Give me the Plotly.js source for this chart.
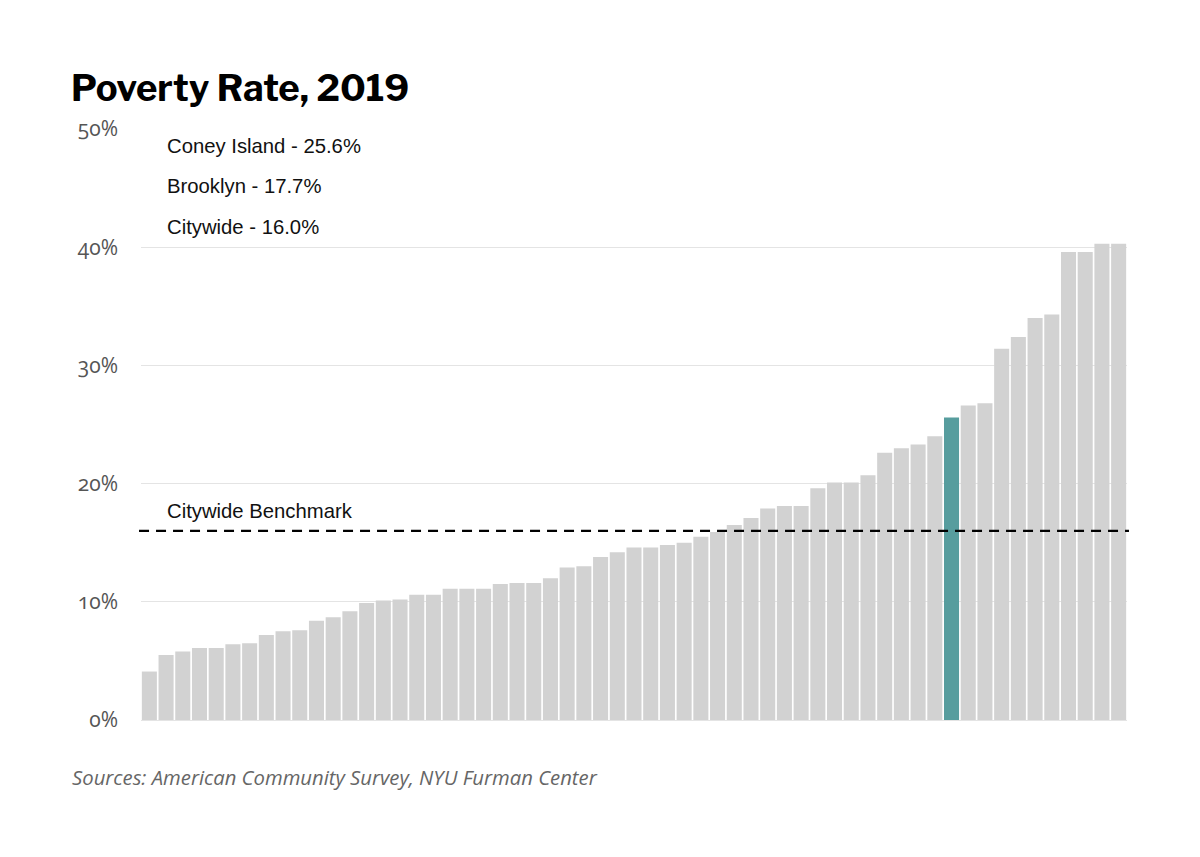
<!DOCTYPE html>
<html>
<head>
<meta charset="utf-8">
<script src="https://cdn.plot.ly/plotly-3.0.1.min.js"></script>
<style>
  html, body { margin: 0; padding: 0; background: #fff; }
  #chart { width: 1200px; height: 857px; }
  .ytick text { font-feature-settings: "onum" 1; }
</style>
</head>
<body>
<div id="chart"></div>
<script>
// Poverty rate (%) by community district, sorted ascending
const povertyRates = [
  4.1, 5.5, 5.8, 6.1, 6.1, 6.4, 6.5, 7.2, 7.5, 7.6,
  8.4, 8.7, 9.2, 9.9, 10.1, 10.2, 10.6, 10.6, 11.1, 11.1,
  11.1, 11.5, 11.6, 11.6, 12.0, 12.9, 13.0, 13.8, 14.2, 14.6,
  14.6, 14.8, 15.0, 15.5, 15.9, 16.5, 17.1, 17.9, 18.1, 18.1,
  19.6, 20.1, 20.1, 20.7, 22.6, 23.0, 23.3, 24.0, 25.6, 26.6,
  26.8, 31.4, 32.4, 34.0, 34.3, 39.6, 39.6, 40.3, 40.3
];
const highlightIndex = 48;          // Coney Island
const highlightName = "Coney Island";
const highlightValue = 25.6;
const boroughName = "Brooklyn";
const boroughValue = 17.7;
const citywideValue = 16.0;
const yTicks = [0, 10, 20, 30, 40, 50];
const yTickLabels = ["0%", "10%", "20%", "30%", "40%", "50%"];

const districts = povertyRates.map((v, i) => i === highlightIndex ? highlightName : "District " + (i + 1));
const barColors = povertyRates.map((v, i) => i === highlightIndex ? "#579d9e" : "#d2d2d2");

const trace = {
  type: "bar",
  x: districts,
  y: povertyRates,
  marker: { color: barColors, line: { width: 0 } },
  hoverinfo: "x+y"
};

const annFont = { family: "Liberation Sans, Arial, sans-serif", size: 20.3, color: "#111" };
const annX = (165 - 141) / 985;

const layout = {
  width: 1200,
  height: 857,
  margin: { l: 141, r: 73, t: 129, b: 137 },
  paper_bgcolor: "#fff",
  plot_bgcolor: "#fff",
  showlegend: false,
  bargap: 0.1,
  title: {
    text: "<b>Poverty Rate, 2019</b>",
    font: { family: "Libre Franklin, Lato, Open Sans, sans-serif", size: 36.5, color: "#000" },
    x: 71 / 1200, xref: "container", xanchor: "left",
    y: 1 - 88 / 857, yref: "container", yanchor: "middle"
  },
  xaxis: {
    type: "category",
    showticklabels: false,
    showgrid: false,
    zeroline: false,
    showline: false,
    ticks: "",
    range: [-0.5, povertyRates.length - 0.5]
  },
  yaxis: {
    range: [0, 50],
    tickvals: yTicks,
    ticktext: yTickLabels,
    showgrid: true,
    gridcolor: "#e4e4e4",
    gridwidth: 1,
    zeroline: true,
    zerolinecolor: "#e4e4e4",
    zerolinewidth: 1,
    showline: false,
    ticks: "",
    ticklabelstandoff: 22,
    tickfont: { family: "Open Sans, sans-serif", size: 21, color: "#555" },
    fixedrange: true
  },
  shapes: [{
    type: "line",
    xref: "paper", x0: -0.002, x1: 1.002,
    yref: "y", y0: citywideValue, y1: citywideValue,
    line: { color: "#000", width: 2.2, dash: "10px,7px" },
    layer: "above"
  }],
  annotations: [
    { text: highlightName + " - " + highlightValue.toFixed(1) + "%", xref: "paper", x: annX, yref: "y", y: 48.55, xanchor: "left", yanchor: "middle", showarrow: false, font: annFont },
    { text: boroughName + " - " + boroughValue.toFixed(1) + "%", xref: "paper", x: annX, yref: "y", y: 45.15, xanchor: "left", yanchor: "middle", showarrow: false, font: annFont },
    { text: "Citywide - " + citywideValue.toFixed(1) + "%", xref: "paper", x: annX, yref: "y", y: 41.7, xanchor: "left", yanchor: "middle", showarrow: false, font: annFont },
    { text: "Citywide Benchmark", xref: "paper", x: annX, yref: "y", y: 17.65, xanchor: "left", yanchor: "middle", showarrow: false, font: annFont },
    { text: "<i>Sources: American Community Survey, NYU Furman Center</i>", xref: "paper", x: (70 - 141) / 985, yref: "paper", y: (720 - 777) / 591, xanchor: "left", yanchor: "middle", showarrow: false,
      font: { family: "Open Sans, sans-serif", size: 20.3, color: "#666" } }
  ]
};

Plotly.newPlot("chart", [trace], layout, { displayModeBar: false, staticPlot: true });
</script>
</body>
</html>
